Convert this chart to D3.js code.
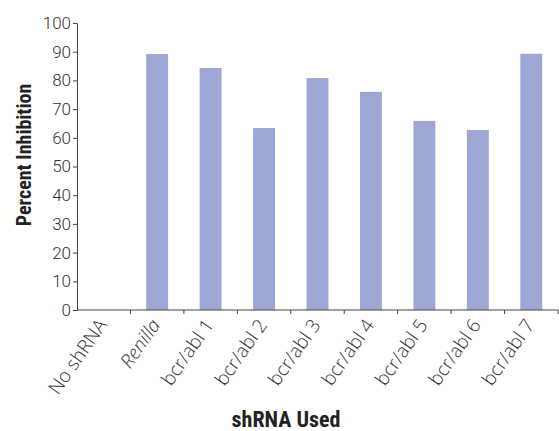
<!DOCTYPE html>
<html>
<head>
<meta charset="utf-8">
<script src="https://cdn.jsdelivr.net/npm/d3@7"></script>
<style>
  body { margin: 0; background: #fff; }
  .tick text { font-family: Roboto, "Liberation Sans", sans-serif; font-weight: 300; fill: #333; }
  .title { font-family: "Liberation Sans Narrow", "Roboto Condensed", "DejaVu Sans Condensed", sans-serif; font-weight: bold; fill: #222; }
</style>
</head>
<body>
<div id="chart"></div>
<script>
const categories = ['No shRNA', 'Renilla', 'bcr/abl 1', 'bcr/abl 2', 'bcr/abl 3', 'bcr/abl 4', 'bcr/abl 5', 'bcr/abl 6', 'bcr/abl 7']
const inhibition = [0, 89.2, 84.3, 63.4, 80.8, 76, 65.9, 62.7, 89.3]
const yTicks = [0, 10, 20, 30, 40, 50, 60, 70, 80, 90, 100]

const margin = { top: 23, left: 77, right: 1, bottom: 121 }
const width = 559 - margin.left - margin.right
const height = 431 - margin.top - margin.bottom

const svg = d3.select('#chart')
  .append('svg')
  .attr('width', 559)
  .attr('height', 431)
  .append('g')
  .attr('transform', 'translate(' + margin.left + ',' + margin.top + ')')

const xPositionScale = d3.scaleBand()
  .domain(categories)
  .range([0, width])

const yPositionScale = d3.scaleLinear()
  .domain([0, 100])
  .range([height, 0])

const barWidth = xPositionScale.step() * 0.41

svg.selectAll('.bar')
  .data(categories)
  .enter()
  .append('rect')
  .attr('class', 'bar')
  .attr('x', (d, i) => xPositionScale(d) + xPositionScale.bandwidth() / 2 - barWidth / 2)
  .attr('y', (d, i) => yPositionScale(inhibition[i]))
  .attr('width', barWidth)
  .attr('height', (d, i) => height - yPositionScale(inhibition[i]))
  .attr('fill', '#9ea6d4')

// y axis
const yAxis = d3.axisLeft(yPositionScale).tickValues(yTicks).tickSize(4).tickPadding(2)
const yG = svg.append('g').attr('class', 'axis y-axis').call(yAxis)
yG.select('.domain').attr('stroke', '#444')
yG.selectAll('.tick line').attr('stroke', '#444')
yG.selectAll('.tick text').attr('font-size', '17px')

// x axis: ticks at the band boundaries
const xG = svg.append('g')
  .attr('class', 'axis x-axis')
  .attr('transform', 'translate(0,' + height + ')')
xG.append('line')
  .attr('x1', 0).attr('x2', width)
  .attr('stroke', '#444')
xG.selectAll('.xtick')
  .data(categories)
  .enter()
  .append('line')
  .attr('x1', d => xPositionScale(d) + xPositionScale.step())
  .attr('x2', d => xPositionScale(d) + xPositionScale.step())
  .attr('y1', 0).attr('y2', 4)
  .attr('stroke', '#444')

xG.selectAll('.xlabel')
  .data(categories)
  .enter()
  .append('text')
  .attr('transform', d => 'translate(' + (xPositionScale(d) + xPositionScale.bandwidth() / 2 + 4) + ',15) rotate(-55)')
  .attr('text-anchor', 'end')
  .attr('font-size', '19px')
  .style('font-style', d => d === 'Renilla' ? 'italic' : 'normal')
  .style('font-family', '"Open Sans", Roboto, sans-serif')
  .style('font-weight', 300)
  .style('fill', '#333')
  .text(d => d)

svg.append('text')
  .attr('class', 'title')
  .attr('transform', 'translate(' + (-46) + ',' + (155 - margin.top) + ') rotate(-90)')
  .attr('text-anchor', 'middle')
  .attr('font-size', '20px')
  .text('Percent Inhibition')

svg.append('text')
  .attr('class', 'title')
  .attr('x', 286 - margin.left)
  .attr('y', 427 - margin.top)
  .attr('text-anchor', 'middle')
  .attr('font-size', '22px')
  .text('shRNA Used')
</script>
</body>
</html>
